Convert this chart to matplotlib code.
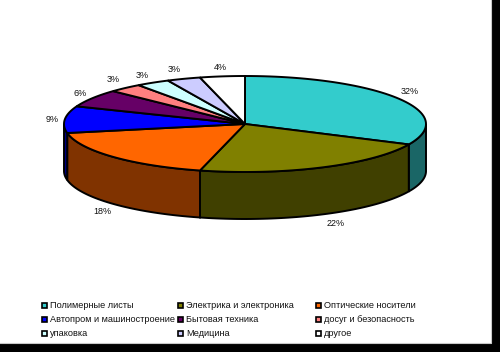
import numpy as np
import matplotlib
matplotlib.use('Agg')
import matplotlib.pyplot as plt
from matplotlib.patches import Polygon, Rectangle

labels = ['Полимерные листы', 'Электрика и электроника', 'Оптические носители',
          'Автопром и машиностроение', 'Бытовая техника', 'досуг и безопасность',
          'упаковка', 'Медицина', 'другое']
values = [32, 22, 18, 9, 6, 3, 3, 3, 4]
top_colors = ['#33cccc', '#808000', '#ff6600', '#0000ff', '#660066', '#ff8080',
              '#ccffff', '#ccccff', '#ffffff']
side_colors = ['#1a6666', '#404000', '#803300', '#000080', '#330033', '#804040',
               '#668080', '#666680', '#808080']

cx, cy = 245, 124
rx, ry = 181, 48
depth = 47

plt.rcParams['font.family'] = ['Liberation Sans', 'DejaVu Sans']

fig = plt.figure(figsize=(5, 3.52), dpi=100, facecolor='white')
ax = fig.add_axes([0, 0, 1, 1])
ax.set_xlim(0, 500)
ax.set_ylim(352, 0)
ax.axis('off')

# black strips right and below, with a thin grey edge
ax.add_patch(Rectangle((491, 0), 9, 352, fc='black', ec='none', zorder=1))
ax.add_patch(Rectangle((0, 343), 500, 9, fc='black', ec='none', zorder=1))
ax.plot([490.5, 490.5, 0], [0, 342.5, 342.5], color='#c8c8c8', lw=0.8, zorder=1)


def rim(a, b, n=60):
    # a, b are clockwise angles from 12 o'clock in degrees
    t = np.radians(np.linspace(a, b, n))
    return cx + rx * np.sin(t), cy - ry * np.cos(t)


edges = np.concatenate([[0], np.cumsum(values)]) * 3.6

# side walls, only the front half of the rim shows
for i in range(len(values)):
    a = max(edges[i], 90)
    b = min(edges[i + 1], 270)
    if a >= b:
        continue
    x, y = rim(a, b)
    pts = np.column_stack([np.concatenate([x, x[::-1]]),
                           np.concatenate([y, y[::-1] + depth])])
    ax.add_patch(Polygon(pts, closed=True, fc=side_colors[i], ec='black', lw=1.4, zorder=2))

# top of the pie
for i in range(len(values)):
    x, y = rim(edges[i], edges[i + 1])
    pts = np.column_stack([np.concatenate([[cx], x]), np.concatenate([[cy], y])])
    ax.add_patch(Polygon(pts, closed=True, fc=top_colors[i], ec='black', lw=1.4, zorder=3))

# percent labels
label_x = [410, 336, 102, 52, 80, 113, 142, 174, 220]
label_y = [91, 223, 212, 119, 93, 80, 75, 70, 68]
for v, lx, ly in zip(values, label_x, label_y):
    ax.text(lx, ly, f'{v}%', fontsize=6.5, ha='center', va='center', color='#111111')

# legend
col_x = [42, 178, 316]
row_y = [305, 319, 333]
for i, name in enumerate(labels):
    x = col_x[i % 3]
    y = row_y[i // 3]
    ax.add_patch(Rectangle((x, y - 2.5), 5, 5, fc=top_colors[i], ec='black', lw=1.2, zorder=3))
    ax.text(x + 8, y, name, fontsize=6.6, ha='left', va='center', color='#111111')

fig.savefig('out.png', dpi=100)
